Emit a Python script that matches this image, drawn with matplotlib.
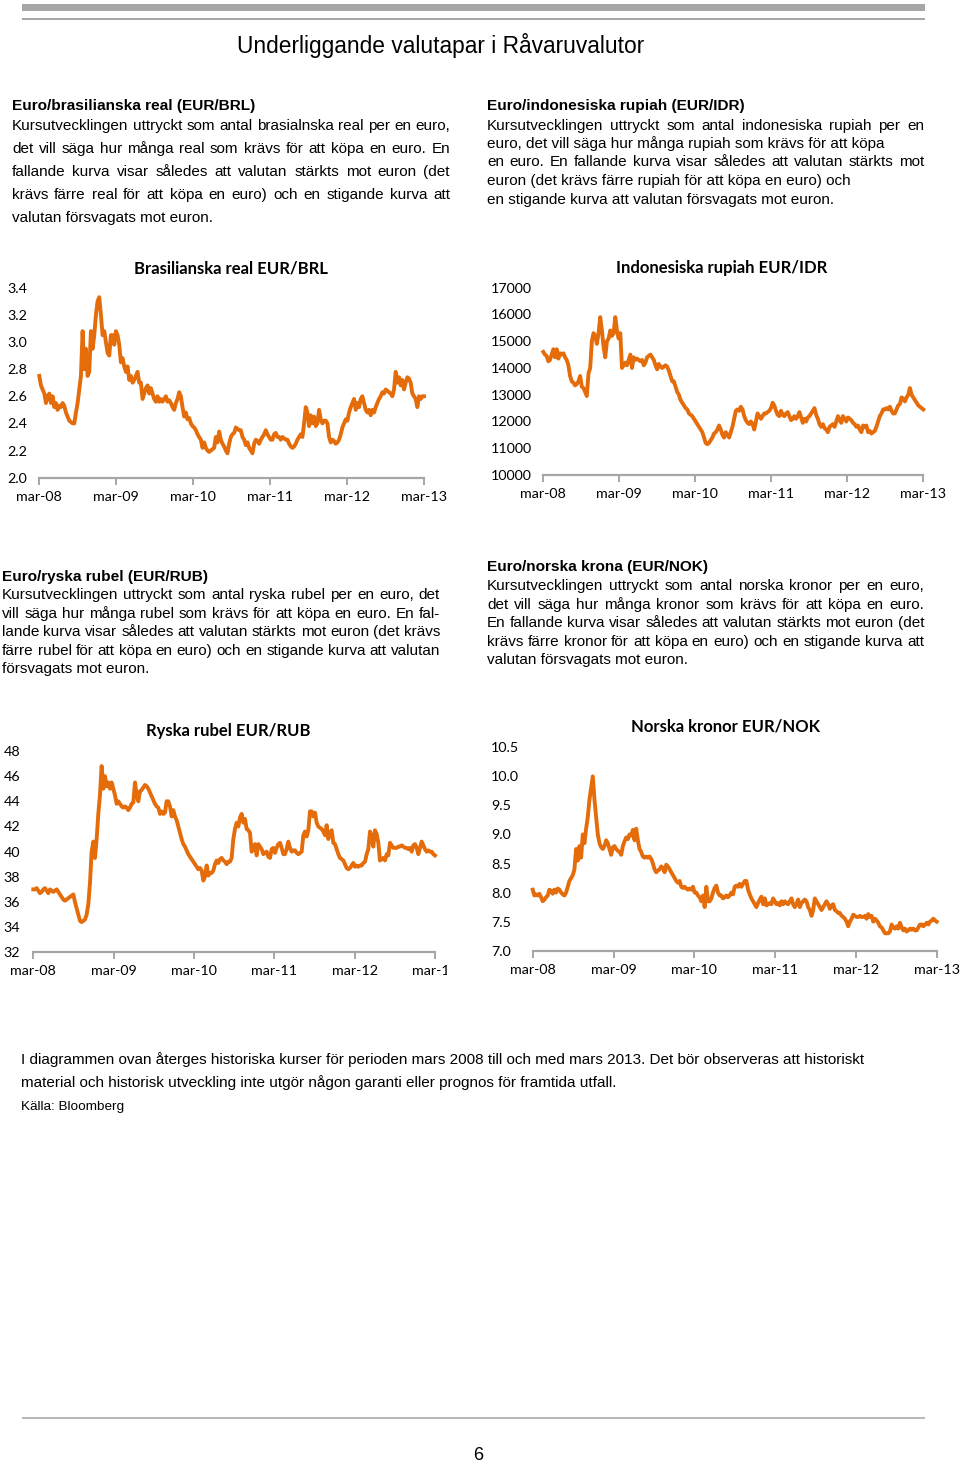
import numpy as np
import matplotlib
matplotlib.use("Agg")
import matplotlib.pyplot as plt
from matplotlib.transforms import Bbox
from matplotlib.patches import Rectangle

W, H = 960, 1464
ORANGE = "#E46C0A"
GREY = "#a6a6a6"
BODY = "Liberation Sans"
CHART = "Lato"

years = ["mar-08", "mar-09", "mar-10", "mar-11", "mar-12", "mar-13"]

# EUR/BRL (mar-08 .. mar-13)
brl = [2.75, 2.68, 2.65, 2.62, 2.55, 2.60, 2.62, 2.55, 2.60, 2.52, 2.55, 2.50, 2.53, 2.52, 2.55, 2.53,
       2.48, 2.45, 2.42, 2.41, 2.40, 2.40, 2.48, 2.55, 2.65, 2.75, 3.08, 2.80, 2.95, 2.75, 2.78, 3.08,
       2.95, 3.05, 3.20, 3.30, 3.33, 3.20, 3.05, 3.08, 3.00, 2.92, 2.90, 3.05, 3.05, 2.98, 3.08, 3.05,
       2.98, 2.85, 2.88, 2.82, 2.78, 2.82, 2.72, 2.75, 2.70, 2.72, 2.75, 2.78, 2.70, 2.70, 2.58, 2.62,
       2.66, 2.68, 2.62, 2.66, 2.62, 2.58, 2.56, 2.60, 2.56, 2.58, 2.56, 2.58, 2.60, 2.56, 2.57, 2.55,
       2.52, 2.50, 2.55, 2.58, 2.63, 2.60, 2.52, 2.45, 2.48, 2.43, 2.44, 2.40, 2.38, 2.37, 2.35, 2.32,
       2.30, 2.28, 2.22, 2.26, 2.22, 2.20, 2.19, 2.20, 2.21, 2.22, 2.30, 2.26, 2.34, 2.28, 2.25, 2.23,
       2.20, 2.18, 2.25, 2.30, 2.32, 2.33, 2.37, 2.36, 2.35, 2.35, 2.30, 2.28, 2.24, 2.26, 2.22, 2.20,
       2.18, 2.25, 2.28, 2.27, 2.25, 2.28, 2.30, 2.32, 2.35, 2.32, 2.30, 2.28, 2.28, 2.32, 2.33, 2.30,
       2.30, 2.28, 2.30, 2.29, 2.28, 2.28, 2.25, 2.23, 2.22, 2.23, 2.25, 2.28, 2.30, 2.32, 2.30, 2.40,
       2.52, 2.48, 2.38, 2.46, 2.40, 2.45, 2.38, 2.40, 2.50, 2.43, 2.40, 2.42, 2.42, 2.40, 2.30, 2.26,
       2.28, 2.27, 2.25, 2.26, 2.28, 2.32, 2.37, 2.40, 2.43, 2.42, 2.48, 2.52, 2.55, 2.58, 2.50, 2.55,
       2.52, 2.58, 2.60, 2.55, 2.50, 2.48, 2.50, 2.46, 2.50, 2.48, 2.52, 2.55, 2.58, 2.60, 2.63, 2.62,
       2.65, 2.64, 2.63, 2.62, 2.60, 2.65, 2.78, 2.70, 2.74, 2.68, 2.72, 2.65, 2.70, 2.74, 2.73, 2.70,
       2.62, 2.60, 2.58, 2.52, 2.60, 2.58, 2.60, 2.60]

# EUR/IDR
idr = [14600, 14500, 14450, 14250, 14300, 14500, 14700, 14400, 14700, 14350, 14550, 14500, 14550,
       14400, 14300, 14100, 13700, 13500, 13450, 13350, 13400, 13500, 13700, 13300, 13250, 13100,
       12950, 13800, 14000, 15000, 15300, 15200, 14900, 15300, 15900, 15400, 14800, 14400, 15000,
       15100, 15400, 15200, 15300, 15900, 15400, 15100, 15300, 14000, 14100, 14200, 14100, 14300,
       14500, 14000, 14400, 14300, 14350, 14300, 14250, 14300, 14100, 14200, 14400, 14450, 14500,
       14400, 14300, 14100, 13950, 14150, 14050, 14000, 14050, 14100, 14050, 13900, 13700, 13500,
       13500, 13300, 13100, 13000, 12800, 12700, 12600, 12500, 12450, 12300, 12250, 12200, 12100,
       12000, 11900, 11800, 11700, 11600, 11400, 11200, 11150, 11200, 11300, 11400, 11550, 11600,
       11700, 11850, 11700, 11500, 11400, 11600, 11500, 11400, 11600, 11800, 12100, 12400, 12450,
       12400, 12550, 12450, 12200, 12050, 11950, 11900, 12000, 11900, 11700, 12000, 12300, 12200,
       12100, 12200, 12300, 12300, 12350, 12400, 12500, 12700, 12600, 12400, 12250, 12200, 12400,
       12250, 12200, 12300, 12350, 12200, 12050, 12100, 12200, 12100, 12200, 12350, 12150, 11950,
       12100, 12000, 12150, 12200, 12300, 12400, 12500, 12250, 12100, 11900, 11800, 11900, 11750,
       11700, 11600, 11800, 11850, 11900, 11800, 12000, 12200, 12050, 11950, 12200, 12100, 12000,
       12150, 12100, 12050, 11950, 11900, 11800, 11850, 11700, 11600, 11850, 11800, 11850, 11600,
       11650, 11550, 11600, 11650, 11800, 12000, 12200, 12300, 12450, 12450, 12500, 12450, 12550,
       12400, 12300, 12300, 12450, 12600, 12650, 12900, 12850, 12750, 12900, 13000, 13250, 13000,
       12900, 12800, 12700, 12600, 12550, 12500, 12450]

# EUR/RUB
rub = [37.0, 37.0, 37.1, 36.9, 36.7, 36.8, 37.0, 37.1, 36.9, 36.7, 37.0, 36.9, 36.8, 36.9, 37.0,
       36.8, 36.6, 36.4, 36.2, 36.1, 36.2, 36.3, 36.4, 36.5, 36.6, 36.0, 35.5, 35.0, 34.5, 34.4,
       34.5, 34.6, 35.0, 35.8, 37.5, 40.0, 40.8, 39.5, 41.0, 43.0, 44.5, 46.8, 45.0, 46.0, 45.2,
       45.5, 45.0, 45.5, 45.0, 44.5, 43.8, 44.0, 43.8, 43.6, 43.5, 43.6, 43.5, 43.3, 43.5, 43.8,
       43.9, 45.5, 44.5, 44.0, 44.8, 44.9, 45.1, 45.3, 45.2, 45.0, 44.7, 44.4, 44.1, 43.8, 43.6,
       43.5, 43.0, 43.2, 43.0, 43.1, 44.0, 44.0, 43.6, 42.8, 43.3, 42.8, 42.5, 42.0, 41.5, 41.0,
       40.6, 40.4, 40.1, 39.8, 39.6, 39.4, 39.2, 39.0, 38.8, 38.6, 38.7, 38.5, 37.7, 38.0, 38.9,
       38.1, 38.3, 38.3, 38.5, 39.0, 39.3, 39.1, 39.4, 39.5, 39.3, 39.2, 39.0, 39.2, 39.2, 39.5,
       41.0, 41.8, 42.3, 42.0, 42.7, 43.0, 42.3, 42.6, 41.8, 41.7, 41.5, 40.0, 40.2, 40.6, 39.7,
       40.6, 40.4, 40.2, 39.8, 39.9, 40.0, 39.6, 39.5, 40.2, 40.3, 39.9, 40.3, 40.6, 40.7, 40.3,
       39.8, 39.8, 40.2, 40.8, 40.3, 40.0, 40.1, 40.1, 39.9, 39.8, 39.9, 40.0, 41.3, 41.6, 41.2,
       41.7, 43.2, 43.2, 42.8, 43.1, 42.3, 42.0, 41.9, 41.8, 41.6, 41.3, 42.1, 41.0, 41.5, 41.7,
       40.7, 40.6, 40.2, 39.8, 39.5, 39.4, 39.3, 39.0, 38.7, 38.6, 38.7, 38.9, 39.1, 38.8, 38.9,
       38.8, 38.9, 38.9, 39.1, 39.2, 39.8, 40.2, 41.6, 41.2, 40.4, 41.7, 41.4, 40.7, 39.3, 39.4,
       39.5, 39.3, 39.8, 39.7, 40.7, 40.5, 40.3, 40.3, 40.3, 40.4, 40.4, 40.5, 40.4, 40.3, 40.3,
       40.2, 40.3, 40.0, 40.5, 40.6, 40.3, 39.8, 40.3, 40.8, 40.5, 40.2, 40.0, 40.1, 40.0, 40.0,
       39.8, 39.7]

# EUR/NOK
nok = [8.05, 7.95, 7.97, 7.95, 7.98, 7.92, 7.85, 7.88, 7.92, 7.95, 8.05, 8.03, 7.98, 8.05, 8.00,
       8.07, 8.05, 8.00, 7.97, 7.95, 8.00, 8.10, 8.20, 8.25, 8.30, 8.40, 8.75, 8.55, 8.80, 8.60,
       9.00, 8.85, 9.10, 9.30, 9.60, 9.80, 10.00, 9.60, 9.30, 9.00, 8.85, 8.78, 8.75, 8.80, 8.90,
       8.85, 8.75, 8.65, 8.78, 8.80, 8.75, 8.72, 8.70, 8.65, 8.80, 8.88, 8.95, 8.92, 9.00, 8.98,
       9.08, 8.90, 9.10, 8.90, 8.75, 8.70, 8.62, 8.60, 8.62, 8.60, 8.62, 8.58, 8.50, 8.40, 8.35,
       8.38, 8.40, 8.45, 8.42, 8.35, 8.48, 8.45, 8.40, 8.35, 8.30, 8.25, 8.20, 8.17, 8.20, 8.10,
       8.08, 8.10, 8.07, 8.05, 8.07, 8.05, 8.10, 8.00, 8.00, 7.95, 7.92, 7.85, 7.95, 7.75, 8.10,
       7.85, 7.85, 7.90, 8.00, 8.08, 8.12, 8.00, 7.95, 7.95, 7.90, 7.92, 7.95, 7.92, 7.95, 8.00,
       7.97, 8.10, 8.12, 8.10, 8.15, 8.10, 8.15, 8.20, 8.20, 8.05, 7.97, 7.90, 7.85, 7.80, 7.75,
       7.82, 7.88, 7.93, 7.80, 7.90, 7.78, 7.80, 7.82, 7.80, 7.90, 7.85, 7.80, 7.82, 7.78, 7.85,
       7.80, 7.85, 7.82, 7.80, 7.85, 7.90, 7.80, 7.75, 7.80, 7.88, 7.75, 7.82, 7.85, 7.88, 7.85,
       7.75, 7.70, 7.60, 7.70, 7.90, 7.85, 7.80, 7.75, 7.70, 7.75, 7.80, 7.85, 7.80, 7.72, 7.78,
       7.80, 7.70, 7.68, 7.65, 7.65, 7.60, 7.58, 7.55, 7.50, 7.42, 7.50, 7.55, 7.62, 7.60, 7.58,
       7.58, 7.60, 7.58, 7.58, 7.60, 7.55, 7.63, 7.58, 7.60, 7.50, 7.55, 7.52, 7.48, 7.42, 7.40,
       7.35, 7.30, 7.30, 7.30, 7.33, 7.45, 7.40, 7.38, 7.42, 7.38, 7.48, 7.40, 7.35, 7.38, 7.33,
       7.35, 7.38, 7.36, 7.38, 7.35, 7.35, 7.40, 7.45, 7.45, 7.42, 7.45, 7.48, 7.45, 7.50, 7.52,
       7.55, 7.52, 7.50]

brl_ticks = [2.0, 2.2, 2.4, 2.6, 2.8, 3.0, 3.2, 3.4]
idr_ticks = [10000, 11000, 12000, 13000, 14000, 15000, 16000, 17000]
rub_ticks = [32, 34, 36, 38, 40, 42, 44, 46, 48]
nok_ticks = [7.0, 7.5, 8.0, 8.5, 9.0, 9.5, 10.0, 10.5]

fig = plt.figure(figsize=(W / 100, H / 100), dpi=100)
renderer = fig.canvas.get_renderer()


def fx(x):
    return x / W


def fy(y):
    return 1 - y / H


def put_line(x0, x1, y, s, size=11, weight="normal", justify=False):
    if not justify:
        fig.text(fx(x0), fy(y), s, fontsize=size, family=BODY, weight=weight, va="center", ha="left")
        return
    words = s.split()
    txts = [fig.text(0, fy(y), w, fontsize=size, family=BODY, weight=weight, va="center", ha="left")
            for w in words]
    widths = [t.get_window_extent(renderer).width for t in txts]
    gap = (x1 - x0 - sum(widths)) / (len(words) - 1)
    x = x0
    for t, w in zip(txts, widths):
        t.set_x(fx(x))
        x += w + gap


def paragraph(x0, x1, y0, step, title, lines, just):
    put_line(x0, x1, y0, title, size=11.1, weight="bold")
    for i, (ln, j) in enumerate(zip(lines, just)):
        put_line(x0, x1, y0 + step[i], ln, justify=j)


def chart(box, values, ticks, fmt, label_x, title, title_xy, clip_x=None):
    left, top, right, bottom = box
    ax = fig.add_axes([fx(left), fy(bottom), (right - left) / W, (bottom - top) / H])
    x = np.linspace(0, 5, len(values))
    ax.plot(x, values, color=ORANGE, lw=2.8, solid_joinstyle="round", clip_on=False)
    ax.set_xlim(0, 5)
    ax.set_ylim(ticks[0], ticks[-1])
    ax.set_xticks(range(6))
    ax.set_xticklabels(years, family=CHART, fontsize=10.3)
    ax.set_yticks(ticks)
    ax.set_yticklabels([fmt.format(t) for t in ticks], family=CHART, fontsize=10.3)
    for s in ["left", "right", "top"]:
        ax.spines[s].set_visible(False)
    ax.spines["bottom"].set_color(GREY)
    ax.spines["bottom"].set_linewidth(1.6)
    ax.tick_params(axis="x", length=5, width=1.4, color=GREY, pad=4.5)
    ax.tick_params(axis="y", length=0, pad=(left - label_x) * 0.72)
    for t in ax.get_yticklabels():
        t.set_horizontalalignment("left")
    ax.patch.set_visible(False)
    if clip_x is not None:
        for t in ax.get_xticklabels():
            t.set_clip_box(Bbox.from_extents(0, 0, clip_x, H))
            t.set_clip_on(True)
    fig.text(fx(title_xy[0]), fy(title_xy[1]), title, family=CHART, weight="bold", fontsize=12,
             ha="center", va="center")
    return ax


# top decoration
fig.patches.append(Rectangle((fx(22), fy(11)), fx(903), 7 / H, transform=fig.transFigure,
                             color=GREY, lw=0))
fig.patches.append(Rectangle((fx(22), fy(20)), fx(903), 2 / H, transform=fig.transFigure,
                             color=GREY, lw=0))
fig.patches.append(Rectangle((fx(22), fy(1419)), fx(903), 2 / H, transform=fig.transFigure,
                             color="#b8b8b8", lw=0))

fig.text(fx(441), fy(46), "Underliggande valutapar i Råvaruvalutor", family=BODY, fontsize=16.4,
         ha="center", va="center")

paragraph(12, 450, 106, [20, 43, 66, 89, 112], "Euro/brasilianska real (EUR/BRL)",
          ["Kursutvecklingen uttryckt som antal brasialnska real per en euro,",
           "det vill säga hur många real som krävs för att köpa en euro. En",
           "fallande kurva visar således att valutan stärkts mot euron (det",
           "krävs färre real för att köpa en euro) och en stigande kurva att",
           "valutan försvagats mot euron."],
          [True, True, True, True, False])

paragraph(487, 924, 106, [20, 38, 56, 75, 94], "Euro/indonesiska rupiah (EUR/IDR)",
          ["Kursutvecklingen uttryckt som antal indonesiska rupiah per en",
           "euro, det vill säga hur många rupiah som krävs för att köpa",
           "en euro. En fallande kurva visar således att valutan stärkts mot",
           "euron (det krävs färre rupiah för att köpa en euro) och",
           "en stigande kurva att valutan försvagats mot euron."],
          [True, False, True, False, False])

paragraph(2, 440, 577, [18, 37, 55, 74, 92], "Euro/ryska rubel (EUR/RUB)",
          ["Kursutvecklingen uttryckt som antal ryska rubel per en euro, det",
           "vill säga hur många rubel som krävs för att köpa en euro. En fal-",
           "lande kurva visar således att valutan stärkts mot euron (det krävs",
           "färre rubel för att köpa en euro) och en stigande kurva att valutan",
           "försvagats mot euron."],
          [True, True, True, True, False])

paragraph(487, 924, 567, [19, 38, 56, 75, 93], "Euro/norska krona (EUR/NOK)",
          ["Kursutvecklingen uttryckt som antal norska kronor per en euro,",
           "det vill säga hur många kronor som krävs för att köpa en euro.",
           "En fallande kurva visar således att valutan stärkts mot euron (det",
           "krävs färre kronor för att köpa en euro) och en stigande kurva att",
           "valutan försvagats mot euron."],
          [True, True, True, True, False])

chart((39.3, 287.7, 424, 477.7), brl, brl_ticks, "{:.1f}", 7,
      "Brasilianska real EUR/BRL", (231, 268))
chart((543.3, 287.7, 923.3, 475), idr, idr_ticks, "{:d}", 491,
      "Indonesiska rupiah EUR/IDR", (722, 268))
chart((33.3, 751, 435, 952.3), rub, rub_ticks, "{:d}", 3.5,
      "Ryska rubel EUR/RUB", (228, 731), clip_x=447)
chart((532.7, 747.3, 936.7, 950.7), nok, nok_ticks, "{:.1f}", 491,
      "Norska kronor EUR/NOK", (726, 727))

put_line(21, 876, 1060, "I diagrammen ovan återges historiska kurser för perioden mars 2008 till och med "
         "mars 2013. Det bör observeras att historiskt", size=11)
put_line(21, 876, 1083, "material och historisk utveckling inte utgör någon garanti eller prognos för "
         "framtida utfall.", size=11)
put_line(21, 200, 1107, "Källa: Bloomberg", size=9.7)
fig.text(fx(478), fy(1455), "6", family=BODY, fontsize=13, ha="center", va="center")

fig.savefig("out.png", dpi=100)
